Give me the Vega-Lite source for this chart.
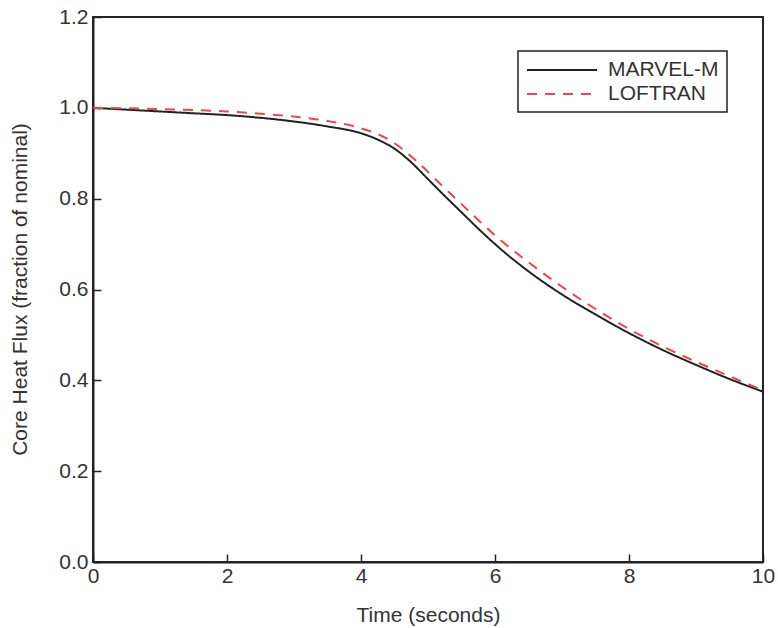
{
  "$schema": "https://vega.github.io/schema/vega-lite/v6.json",
  "width": 670,
  "height": 545,
  "autosize": "none",
  "padding": {"left": 93, "top": 17, "right": 15, "bottom": 66},
  "background": "white",
  "config": {
    "font": "Liberation Sans",
    "view": {"stroke": "#222222", "strokeWidth": 2},
    "legend": {"strokeWidth": 1.5},
    "axis": {
      "grid": false,
      "labelFlush": false,
      "labelOverlap": false,
      "domainColor": "#222222",
      "domainWidth": 2,
      "tickColor": "#222222",
      "tickWidth": 1.5,
      "tickSize": -8,
      "labelFont": "Liberation Sans",
      "labelFontSize": 21,
      "labelColor": "#333333",
      "titleFont": "Liberation Sans",
      "titleFontSize": 21,
      "titleFontWeight": "normal",
      "titleColor": "#333333"
    }
  },
  "data": {
    "values": [
      {"t": 0, "v": 1.000, "series": "MARVEL-M"},
      {"t": 0.5, "v": 0.996, "series": "MARVEL-M"},
      {"t": 1, "v": 0.992, "series": "MARVEL-M"},
      {"t": 1.5, "v": 0.988, "series": "MARVEL-M"},
      {"t": 2, "v": 0.984, "series": "MARVEL-M"},
      {"t": 2.5, "v": 0.978, "series": "MARVEL-M"},
      {"t": 3, "v": 0.970, "series": "MARVEL-M"},
      {"t": 3.5, "v": 0.959, "series": "MARVEL-M"},
      {"t": 4, "v": 0.944, "series": "MARVEL-M"},
      {"t": 4.25, "v": 0.930, "series": "MARVEL-M"},
      {"t": 4.5, "v": 0.910, "series": "MARVEL-M"},
      {"t": 4.75, "v": 0.880, "series": "MARVEL-M"},
      {"t": 5, "v": 0.843, "series": "MARVEL-M"},
      {"t": 5.25, "v": 0.806, "series": "MARVEL-M"},
      {"t": 5.5, "v": 0.770, "series": "MARVEL-M"},
      {"t": 5.75, "v": 0.734, "series": "MARVEL-M"},
      {"t": 6, "v": 0.700, "series": "MARVEL-M"},
      {"t": 6.5, "v": 0.640, "series": "MARVEL-M"},
      {"t": 7, "v": 0.589, "series": "MARVEL-M"},
      {"t": 7.5, "v": 0.545, "series": "MARVEL-M"},
      {"t": 8, "v": 0.504, "series": "MARVEL-M"},
      {"t": 8.5, "v": 0.467, "series": "MARVEL-M"},
      {"t": 9, "v": 0.434, "series": "MARVEL-M"},
      {"t": 9.5, "v": 0.403, "series": "MARVEL-M"},
      {"t": 10, "v": 0.375, "series": "MARVEL-M"},
      {"t": 0, "v": 1.000, "series": "LOFTRAN"},
      {"t": 0.5, "v": 0.999, "series": "LOFTRAN"},
      {"t": 1, "v": 0.997, "series": "LOFTRAN"},
      {"t": 1.5, "v": 0.995, "series": "LOFTRAN"},
      {"t": 2, "v": 0.992, "series": "LOFTRAN"},
      {"t": 2.5, "v": 0.987, "series": "LOFTRAN"},
      {"t": 3, "v": 0.981, "series": "LOFTRAN"},
      {"t": 3.5, "v": 0.971, "series": "LOFTRAN"},
      {"t": 4, "v": 0.955, "series": "LOFTRAN"},
      {"t": 4.25, "v": 0.942, "series": "LOFTRAN"},
      {"t": 4.5, "v": 0.922, "series": "LOFTRAN"},
      {"t": 4.75, "v": 0.893, "series": "LOFTRAN"},
      {"t": 5, "v": 0.859, "series": "LOFTRAN"},
      {"t": 5.25, "v": 0.823, "series": "LOFTRAN"},
      {"t": 5.5, "v": 0.788, "series": "LOFTRAN"},
      {"t": 5.75, "v": 0.753, "series": "LOFTRAN"},
      {"t": 6, "v": 0.719, "series": "LOFTRAN"},
      {"t": 6.5, "v": 0.660, "series": "LOFTRAN"},
      {"t": 7, "v": 0.606, "series": "LOFTRAN"},
      {"t": 7.5, "v": 0.557, "series": "LOFTRAN"},
      {"t": 8, "v": 0.513, "series": "LOFTRAN"},
      {"t": 8.5, "v": 0.475, "series": "LOFTRAN"},
      {"t": 9, "v": 0.441, "series": "LOFTRAN"},
      {"t": 9.5, "v": 0.409, "series": "LOFTRAN"},
      {"t": 10, "v": 0.378, "series": "LOFTRAN"}
    ]
  },
  "mark": {"type": "line", "strokeWidth": 2, "interpolate": "monotone"},
  "encoding": {
    "x": {
      "field": "t",
      "type": "quantitative",
      "scale": {"domain": [0, 10], "nice": false},
      "axis": {
        "title": "Time (seconds)",
        "values": [0, 2, 4, 6, 8, 10],
        "format": "d",
        "labelPadding": 11,
        "titleX": 335,
        "titleY": 59,
        "titleAnchor": "middle",
        "titleBaseline": "alphabetic"
      }
    },
    "y": {
      "field": "v",
      "type": "quantitative",
      "scale": {"domain": [0, 1.2], "nice": false},
      "axis": {
        "title": "Core Heat Flux (fraction of nominal)",
        "values": [0, 0.2, 0.4, 0.6, 0.8, 1.0, 1.2],
        "format": ".1f",
        "labelPadding": 13,
        "titleX": -73,
        "titleY": 272,
        "titleAngle": -90,
        "titleAlign": "center",
        "titleBaseline": "middle"
      }
    },
    "color": {
      "field": "series",
      "type": "nominal",
      "sort": ["MARVEL-M", "LOFTRAN"],
      "scale": {"domain": ["MARVEL-M", "LOFTRAN"], "range": ["#222222", "#e8474c"]},
      "legend": {
        "title": null,
        "orient": "none",
        "legendX": 425,
        "legendY": 34,
        "strokeColor": "#222222",
        "fillColor": "white",
        "padding": 8,
        "symbolType": "M-1,0H6",
        "symbolSize": 400,
        "symbolStrokeWidth": 2,
        "labelFontSize": 21,
        "labelColor": "#333333",
        "labelFont": "Liberation Sans",
        "labelOffset": 60,
        "labelLimit": 300,
        "rowPadding": 3,
        "cornerRadius": 0
      }
    },
    "strokeDash": {
      "field": "series",
      "type": "nominal",
      "sort": ["MARVEL-M", "LOFTRAN"],
      "scale": {"domain": ["MARVEL-M", "LOFTRAN"], "range": [[1, 0], [10, 8]]}
    }
  }
}
